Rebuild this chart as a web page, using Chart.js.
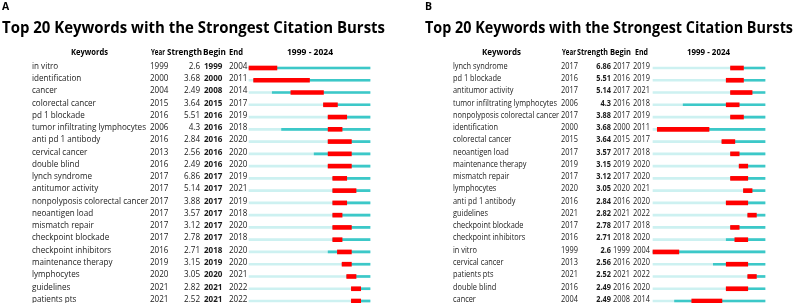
<!DOCTYPE html>
<html lang="en">
<head>
    <meta charset="UTF-8">
    <title>Top 20 Keywords with the Strongest Citation Bursts</title>
    <style>
        body {
            margin: 0;
            background: white;
            width: 794px;
            height: 303px;
            position: relative;
            overflow: hidden;
        }
        canvas {
            position: absolute;
            top: 0;
        }
        #chartA { left: 0; }
        #chartB { left: 397px; }
    </style>
    <script src="https://cdn.jsdelivr.net/npm/chart.js"></script>
</head>
<body>

    <canvas id="chartA" width="397" height="303"></canvas>
    <canvas id="chartB" width="397" height="303"></canvas>

    <script>
        const firstYear = 1999;
        const lastYear = 2024;

        // panel A
        const keywordsA = ["in vitro", "identification", "cancer", "colorectal cancer", "pd 1 blockade",
            "tumor infiltrating lymphocytes", "anti pd 1 antibody", "cervical cancer", "double blind",
            "lynch syndrome", "antitumor activity", "nonpolyposis colorectal cancer", "neoantigen load",
            "mismatch repair", "checkpoint blockade", "checkpoint inhibitors", "maintenance therapy",
            "lymphocytes", "guidelines", "patients pts"];
        const yearA = [1999, 2000, 2004, 2015, 2016, 2006, 2016, 2013, 2016, 2017, 2017, 2017, 2017, 2017, 2017, 2016, 2019, 2020, 2021, 2021];
        const strengthA = [2.6, 3.68, 2.49, 3.64, 5.51, 4.3, 2.84, 2.56, 2.49, 6.86, 5.14, 3.88, 3.57, 3.12, 2.78, 2.71, 3.15, 3.05, 2.82, 2.52];
        const beginA = [1999, 2000, 2008, 2015, 2016, 2016, 2016, 2016, 2016, 2017, 2017, 2017, 2017, 2017, 2017, 2018, 2019, 2020, 2021, 2021];
        const endA = [2004, 2011, 2014, 2017, 2019, 2018, 2020, 2020, 2020, 2019, 2021, 2019, 2018, 2020, 2018, 2020, 2020, 2021, 2022, 2022];

        // panel B
        const keywordsB = ["lynch syndrome", "pd 1 blockade", "antitumor activity", "tumor infiltrating lymphocytes",
            "nonpolyposis colorectal cancer", "identification", "colorectal cancer", "neoantigen load",
            "maintenance therapy", "mismatch repair", "lymphocytes", "anti pd 1 antibody", "guidelines",
            "checkpoint blockade", "checkpoint inhibitors", "in vitro", "cervical cancer", "patients pts",
            "double blind", "cancer"];
        const yearB = [2017, 2016, 2017, 2006, 2017, 2000, 2015, 2017, 2019, 2017, 2020, 2016, 2021, 2017, 2016, 1999, 2013, 2021, 2016, 2004];
        const strengthB = [6.86, 5.51, 5.14, 4.3, 3.88, 3.68, 3.64, 3.57, 3.15, 3.12, 3.05, 2.84, 2.82, 2.78, 2.71, 2.6, 2.56, 2.52, 2.49, 2.49];
        const beginB = [2017, 2016, 2017, 2016, 2017, 2000, 2015, 2017, 2019, 2017, 2020, 2016, 2021, 2017, 2018, 1999, 2016, 2021, 2016, 2008];
        const endB = [2019, 2019, 2021, 2018, 2019, 2011, 2017, 2018, 2020, 2020, 2021, 2020, 2022, 2018, 2020, 2004, 2020, 2022, 2020, 2014];

        const W = 397, H = 303;
        const rowTop = 68, rowBottom = 301;
        const FONT = '"Open Sans", "Noto Sans", sans-serif';
        const red = '#ff0000';
        const teal = '#3cc8c8';
        const light = '#cdf1f1';

        // header cells: [text, left x, width]
        const panelA = {
            letter: 'A', letterX: 2, titleX: 2, titleW: 383,
            kw: keywordsA, year: yearA, strength: strengthA, begin: beginA, end: endA,
            barLeft: 249, barRight: 370, kwW: 114,
            head: [['Keywords', 71, 37], ['Year', 151, 14], ['Strength', 167, 35], ['Begin', 203, 23], ['End', 229, 14], [firstYear + ' - ' + lastYear, 287, 46]],
            col: { kw: 32, year: 150, str: 200, beg: 204, end: 229 },
            boldBegin: true
        };
        const panelB = {
            letter: 'B', letterX: 28, titleX: 28, titleW: 368,
            kw: keywordsB, year: yearB, strength: strengthB, begin: beginB, end: endB,
            barLeft: 256, barRight: 368, kwW: 104,
            head: [['Keywords', 85, 39], ['Year', 165, 14], ['Strength', 180, 31], ['Begin', 213, 21], ['End', 238, 13], [firstYear + ' - ' + lastYear, 290, 43]],
            col: { kw: 56, year: 164, str: 214, beg: 216, end: 236 },
            boldBegin: false
        };

        function txt(ctx, s, x, y, align, sx) {
            ctx.save();
            ctx.translate(x, y);
            ctx.scale(sx, 1);
            ctx.textAlign = align;
            ctx.fillText(s, 0, 0);
            ctx.restore();
        }

        function textPlugin(p) {
            return {
                id: 'burstText',
                afterDraw(chart) {
                    const ctx = chart.ctx;
                    const yScale = chart.scales.y;
                    const c = p.col;
                    ctx.save();
                    ctx.fillStyle = '#000';
                    ctx.textBaseline = 'alphabetic';

                    // panel letter + title
                    ctx.font = 'bold 11px ' + FONT;
                    txt(ctx, p.letter, p.letterX, 10, 'left', 0.95);
                    ctx.font = 'bold 16px ' + FONT;
                    const title = 'Top 20 Keywords with the Strongest Citation Bursts';
                    txt(ctx, title, p.titleX, 33, 'left', p.titleW / ctx.measureText(title).width);

                    // header, each cell fitted to its width
                    ctx.font = 'bold 9.5px ' + FONT;
                    p.head.forEach(h => {
                        txt(ctx, h[0], h[1], 55, 'left', h[2] / ctx.measureText(h[0]).width);
                    });

                    // body scale from the longest keyword
                    ctx.font = '9.5px ' + FONT;
                    const sx = p.kwW / ctx.measureText('tumor infiltrating lymphocytes').width;

                    // rows
                    ctx.fillStyle = '#1a1a1a';
                    p.kw.forEach((k, i) => {
                        const y = yScale.getPixelForValue(i) + 0.8;
                        ctx.font = '9.5px ' + FONT;
                        txt(ctx, k, c.kw, y, 'left', sx);
                        txt(ctx, String(p.year[i]), c.year, y, 'left', sx);
                        ctx.font = (p.boldBegin ? '' : 'bold ') + '9.5px ' + FONT;
                        txt(ctx, String(p.strength[i]), c.str, y, 'right', sx);
                        ctx.font = (p.boldBegin ? 'bold ' : '') + '9.5px ' + FONT;
                        txt(ctx, String(p.begin[i]), c.beg, y, 'left', sx);
                        ctx.font = '9.5px ' + FONT;
                        txt(ctx, String(p.end[i]), c.end, y, 'left', sx);
                    });
                    ctx.restore();
                }
            };
        }

        function makeChart(id, p) {
            new Chart(document.getElementById(id), {
                type: 'bar',
                data: {
                    labels: p.kw,
                    datasets: [
                        {
                            // burst period
                            data: p.begin.map((b, i) => [b, p.end[i] + 1]),
                            backgroundColor: red,
                            barThickness: 4,
                            order: 0
                        },
                        {
                            // from first appearance
                            data: p.year.map(v => [v, lastYear + 1]),
                            backgroundColor: teal,
                            barThickness: 2,
                            order: 1
                        },
                        {
                            // whole time span
                            data: p.kw.map(() => [firstYear, lastYear + 1]),
                            backgroundColor: light,
                            barThickness: 2,
                            order: 2
                        }
                    ]
                },
                options: {
                    indexAxis: 'y',
                    responsive: false,
                    animation: false,
                    devicePixelRatio: 1,
                    layout: {
                        padding: { left: p.barLeft, right: W - p.barRight, top: rowTop, bottom: H - rowBottom }
                    },
                    datasets: {
                        bar: { grouped: false, clip: false, borderWidth: 0 }
                    },
                    scales: {
                        x: { type: 'linear', min: firstYear, max: lastYear + 1, display: false },
                        y: { type: 'category', offset: false, display: false }
                    },
                    plugins: {
                        legend: { display: false },
                        tooltip: { enabled: false }
                    }
                },
                plugins: [textPlugin(p)]
            });
        }

        makeChart('chartA', panelA);
        makeChart('chartB', panelB);
    </script>
</body>
</html>
